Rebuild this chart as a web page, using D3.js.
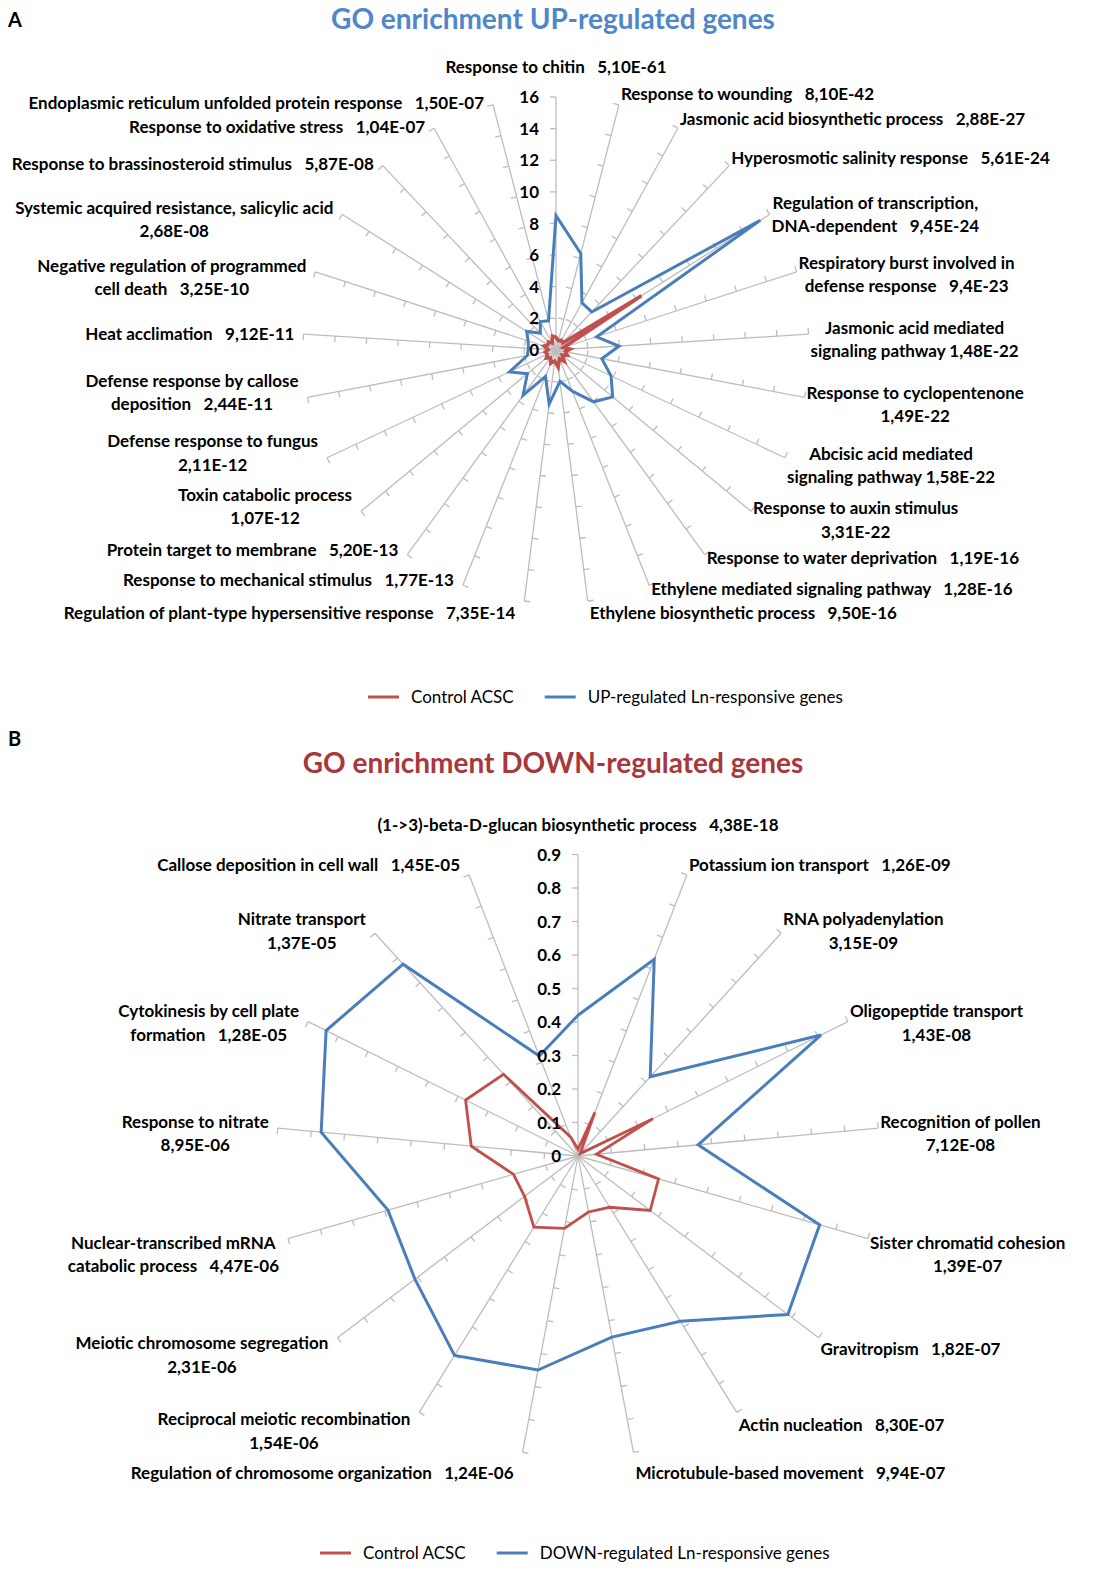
<!DOCTYPE html>
<html><head><meta charset="utf-8">
<script src="https://cdn.jsdelivr.net/npm/d3@7/dist/d3.min.js"></script>
<style>
body{margin:0;background:#fff}
text{font-family:Lato,"Open Sans",sans-serif;white-space:pre}
</style>
</head><body>
<svg id="chart" width="1106" height="1574"></svg>
<script>
// ---------- DATA ----------
const upCategories = [
  "Response to chitin   5,10E-61",
  "Response to wounding   8,10E-42",
  "Jasmonic acid biosynthetic process   2,88E-27",
  "Hyperosmotic salinity response   5,61E-24",
  "Regulation of transcription,\nDNA-dependent   9,45E-24",
  "Respiratory burst involved in\ndefense response   9,4E-23",
  "Jasmonic acid mediated\nsignaling pathway 1,48E-22",
  "Response to cyclopentenone\n1,49E-22",
  "Abcisic acid mediated\nsignaling pathway 1,58E-22",
  "Response to auxin stimulus\n3,31E-22",
  "Response to water deprivation   1,19E-16",
  "Ethylene mediated signaling pathway   1,28E-16",
  "Ethylene biosynthetic process   9,50E-16",
  "Regulation of plant-type hypersensitive response   7,35E-14",
  "Response to mechanical stimulus   1,77E-13",
  "Protein target to membrane   5,20E-13",
  "Toxin catabolic process\n1,07E-12",
  "Defense response to fungus\n2,11E-12",
  "Defense response by callose\ndeposition   2,44E-11",
  "Heat acclimation   9,12E-11",
  "Negative regulation of programmed\ncell death   3,25E-10",
  "Systemic acquired resistance, salicylic acid\n2,68E-08",
  "Response to brassinosteroid stimulus   5,87E-08",
  "Response to oxidative stress   1,04E-07",
  "Endoplasmic reticulum unfolded protein response   1,50E-07"
];
const upControl = [0.8, 0.6, 0.7, 0.6, 6.4, 0.5, 0.9, 0.6, 0.8, 0.5, 0.9, 0.6, 1.1, 0.7, 0.9, 0.6, 0.8, 0.6, 0.7, 0.5, 0.8, 0.6, 0.7, 0.5, 0.9];
const upGenes = [8.5, 6.3, 3.4, 3.3, 15.3, 2.7, 4.0, 2.95, 3.85, 4.65, 4.05, 2.8, 2.0, 3.45, 1.8, 3.55, 2.35, 3.25, 1.85, 1.75, 1.85, 2.2, 1.45, 2.05, 1.9];
const upTicks = [0, 2, 4, 6, 8, 10, 12, 14, 16];
const upSeriesNames = ["Control ACSC", "UP-regulated Ln-responsive genes"];

const downCategories = [
  "(1->3)-beta-D-glucan biosynthetic process   4,38E-18",
  "Potassium ion transport   1,26E-09",
  "RNA polyadenylation\n3,15E-09",
  "Oligopeptide transport\n1,43E-08",
  "Recognition of pollen\n7,12E-08",
  "Sister chromatid cohesion\n1,39E-07",
  "Gravitropism   1,82E-07",
  "Actin nucleation   8,30E-07",
  "Microtubule-based movement   9,94E-07",
  "Regulation of chromosome organization   1,24E-06",
  "Reciprocal meiotic recombination\n1,54E-06",
  "Meiotic chromosome segregation\n2,31E-06",
  "Nuclear-transcribed mRNA\ncatabolic process   4,47E-06",
  "Response to nitrate\n8,95E-06",
  "Cytokinesis by cell plate\nformation   1,28E-05",
  "Nitrate transport\n1,37E-05",
  "Callose deposition in cell wall   1,45E-05"
];
const downControl = [0.02, 0.14, 0.01, 0.25, 0.055, 0.25, 0.27, 0.18, 0.17, 0.22, 0.25, 0.2, 0.2, 0.32, 0.375, 0.33, 0.06];
const downGenes = [0.42, 0.63, 0.32, 0.81, 0.36, 0.75, 0.785, 0.58, 0.55, 0.65, 0.70, 0.61, 0.59, 0.77, 0.84, 0.775, 0.32];
const downTicks = [0, 0.1, 0.2, 0.3, 0.4, 0.5, 0.6, 0.7, 0.8, 0.9];
const downSeriesNames = ["Control ACSC", "DOWN-regulated Ln-responsive genes"];

// ---------- DRAW ----------
const RED = "#c0504d", BLUE = "#4a7ebb", GRID = "#bdbdbd";
const svg = d3.select("#chart");
svg.append("rect").attr("width", 1106).attr("height", 1574).attr("fill", "#fff");

function radar(o) {
  const g = svg.append("g");
  const n = o.categories.length;
  const maxV = o.ticks[o.ticks.length - 1];
  const r = d3.scaleLinear().domain([0, maxV]).range([0, o.R]);
  const ang = d3.scaleLinear().domain([0, n]).range([0, 2 * Math.PI]);
  const idx = d3.range(n);

  // spokes
  g.selectAll("line.spoke").data(idx).join("line")
    .attr("x1", o.cx).attr("y1", o.cy)
    .attr("x2", i => o.cx + o.R * Math.sin(ang(i)))
    .attr("y2", i => o.cy - o.R * Math.cos(ang(i)))
    .attr("stroke", GRID).attr("stroke-width", 1.3);

  // tick marks on each spoke
  const tickData = [];
  idx.forEach(i => o.ticks.slice(1).forEach(v => tickData.push({i, v})));
  g.selectAll("line.tick").data(tickData).join("line")
    .attr("x1", d => o.cx + r(d.v) * Math.sin(ang(d.i)))
    .attr("y1", d => o.cy - r(d.v) * Math.cos(ang(d.i)))
    .attr("x2", d => o.cx + r(d.v) * Math.sin(ang(d.i)) - 6 * Math.cos(ang(d.i)))
    .attr("y2", d => o.cy - r(d.v) * Math.cos(ang(d.i)) - 6 * Math.sin(ang(d.i)))
    .attr("stroke", GRID).attr("stroke-width", 1.3);

  // series
  const line = d3.lineRadial().angle((d, i) => ang(i)).radius(d => r(d)).curve(d3.curveLinearClosed);
  o.series.forEach(s => {
    g.append("path").attr("d", line(s.values))
      .attr("transform", `translate(${o.cx},${o.cy})`)
      .attr("fill", "none").attr("stroke", s.color).attr("stroke-width", s.width)
      .attr("stroke-linejoin", "miter");
  });

  // radial tick labels
  g.selectAll("text.tl").data(o.ticks).join("text")
    .attr("x", o.cx - 17).attr("y", v => o.cy - r(v)).attr("dy", "0.36em")
    .attr("text-anchor", "end").attr("font-weight", 700).attr("font-size", o.fs)
    .attr("fill", "#000").text(o.fmt);

  // category labels
  const lh = 23.5;
  o.categories.forEach((lab, i) => {
    const a = ang(i), s = Math.sin(a), c = Math.cos(a);
    const ex = o.cx + o.R * s, ey = o.cy - o.R * c;
    const lines = lab.split("\n"), m = lines.length;
    const t = g.append("text").attr("font-weight", 700).attr("font-size", o.fs).attr("fill", "#000").attr("text-anchor", "middle");
    const spans = lines.map(L => t.append("tspan").text(L));
    const w = d3.max(spans, sp => sp.node().getComputedTextLength());
    let bx, by;
    if (i === 0) { bx = ex; by = ey - 30 - (m - 1) * lh / 2; }
    else {
      bx = s > 0 ? ex + 2 + w / 2 : ex - 9 - w / 2;
      if (c >= 0) by = ey - c * (s > 0 ? 11 : o.kLU) + (m - 1) * 6;
      else if (s < 0 && o.leftLow !== undefined && -c <= 0.95) by = ey + o.leftLow;
      else by = ey + (-c > 0.95 ? 12 : -4 * c) + (c < -0.2 ? o.drop : 0) + (m - 1) * 6;
    }
    spans.forEach((sp, j) => sp.attr("x", bx).attr("y", by + (j - (m - 1) / 2) * lh).attr("dy", "0.36em"));
  });
}

function legend(y, x0, names) {
  const g = svg.append("g");
  const cols = [RED, BLUE];
  let x = x0;
  names.forEach((nm, i) => {
    g.append("line").attr("x1", x).attr("x2", x + 31).attr("y1", y).attr("y2", y).attr("stroke", cols[i]).attr("stroke-width", 3);
    const t = g.append("text").attr("x", x + 43).attr("y", y).attr("dy", "0.36em").attr("font-size", 17).attr("fill", "#000").text(nm);
    x = x + 43 + t.node().getComputedTextLength() + 31;
  });
}

// Panel letters and titles
svg.append("text").attr("x", 8).attr("y", 27).attr("font-family", "Liberation Sans, Arial, sans-serif").attr("font-weight", 700).attr("font-size", 20).text("A");
svg.append("text").attr("x", 8).attr("y", 746).attr("font-family", "Liberation Sans, Arial, sans-serif").attr("font-weight", 700).attr("font-size", 20).text("B");
svg.append("text").attr("x", 553).attr("y", 29).attr("text-anchor", "middle").attr("font-weight", 700).attr("font-size", 28).attr("fill", "#4f87c9").text("GO enrichment UP-regulated genes");
svg.append("text").attr("x", 553).attr("y", 773).attr("text-anchor", "middle").attr("font-weight", 700).attr("font-size", 28).attr("fill", "#a8383b").text("GO enrichment DOWN-regulated genes");

radar({cx: 556, cy: 350, R: 253, categories: upCategories, ticks: upTicks, fs: 17, drop: 0, kLU: 2, leftLow: -5, fmt: d => String(d),
  series: [{values: upControl, color: RED, width: 3.5}, {values: upGenes, color: BLUE, width: 3}]});
legend(697, 368, upSeriesNames);

radar({cx: 578, cy: 1156, R: 301.5, categories: downCategories, ticks: downTicks, fs: 17, drop: 9, kLU: 11, fmt: d => d === 0 ? "0" : d3.format(".1f")(d),
  series: [{values: downControl, color: RED, width: 2.8}, {values: downGenes, color: BLUE, width: 3}]});
legend(1553, 320, downSeriesNames);
</script>
</body></html>
